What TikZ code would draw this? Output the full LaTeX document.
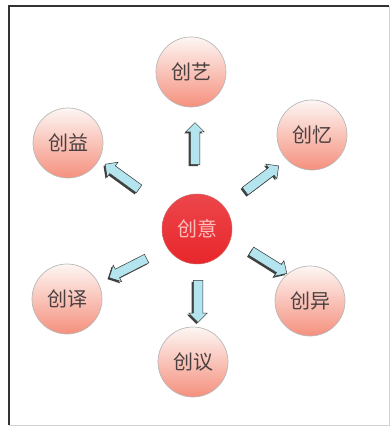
\documentclass[tikz,border=0pt]{standalone}
\usepackage{fontspec}
\newfontfamily\cjk{Noto Sans CJK SC}
\usetikzlibrary{shapes.arrows,shadows}
\definecolor{salmon}{HTML}{F5907E}
\definecolor{pale}{HTML}{FDF6F3}
\definecolor{mainred}{HTML}{E8262B}
\definecolor{arrcyan}{HTML}{B4E4EE}
\definecolor{txtgray}{HTML}{4A4040}
\tikzset{
  idea/.style={circle, minimum size=70pt, inner sep=0pt, draw=gray!55, line width=0.7pt,
    top color=pale, bottom color=salmon, middle color=salmon!50!pale,
    text=txtgray, font=\cjk\fontsize{20}{20}\selectfont},
  core/.style={circle, minimum size=70pt, inner sep=0pt, draw=red!70!black!60, line width=0.5pt,
    top color=mainred!85!white, bottom color=mainred, text=red!25, font=\cjk\fontsize{20}{20}\selectfont},
  blockarrow/.style={single arrow, draw=gray!40!black, line width=0.5pt, fill=arrcyan,
    inner xsep=0pt, inner ysep=4.5pt, minimum height=42pt,
    single arrow head extend=4.5pt, single arrow tip angle=90,
    general shadow={fill=gray!50!black, shadow xshift=-1.6pt, shadow yshift=-1.6pt}},
}
\begin{document}
\begin{tikzpicture}[x=1pt,y=-1pt]
\useasboundingbox (0,0) rectangle (390,427);
\fill[white] (0,0) rectangle (390,427);
% frame
\draw[gray!35, line width=1pt] (389,6) -- (389,425) -- (9,425);
\draw[gray!40!black, line width=1.6pt] (9,425) -- (9,6) -- (389,6);
% circles
\node[core] (c) at (197,229) {创意};
\node[idea] (yi) at (191,72) {创艺};
\node[idea] (yi2) at (68,143) {创益};
\node[idea] (yi3) at (312,135) {创忆};
\node[idea] (yi4) at (67,299) {创译};
\node[idea] (yi5) at (310,301) {创异};
\node[idea] (yi6) at (193,362) {创议};
% block arrows
\node[blockarrow, rotate=90] (a1) at (195,146) {};
\node[blockarrow, rotate=144] (a2) at (124,178) {};
\node[blockarrow, rotate=37] (a3) at (260,180) {};
\node[blockarrow, rotate=-32] (a4) at (267,261) {};
\node[blockarrow, rotate=-90] (a5) at (198,299) {};
\node[blockarrow, rotate=-153] (a6) at (130,267) {};
\end{tikzpicture}
\end{document}
